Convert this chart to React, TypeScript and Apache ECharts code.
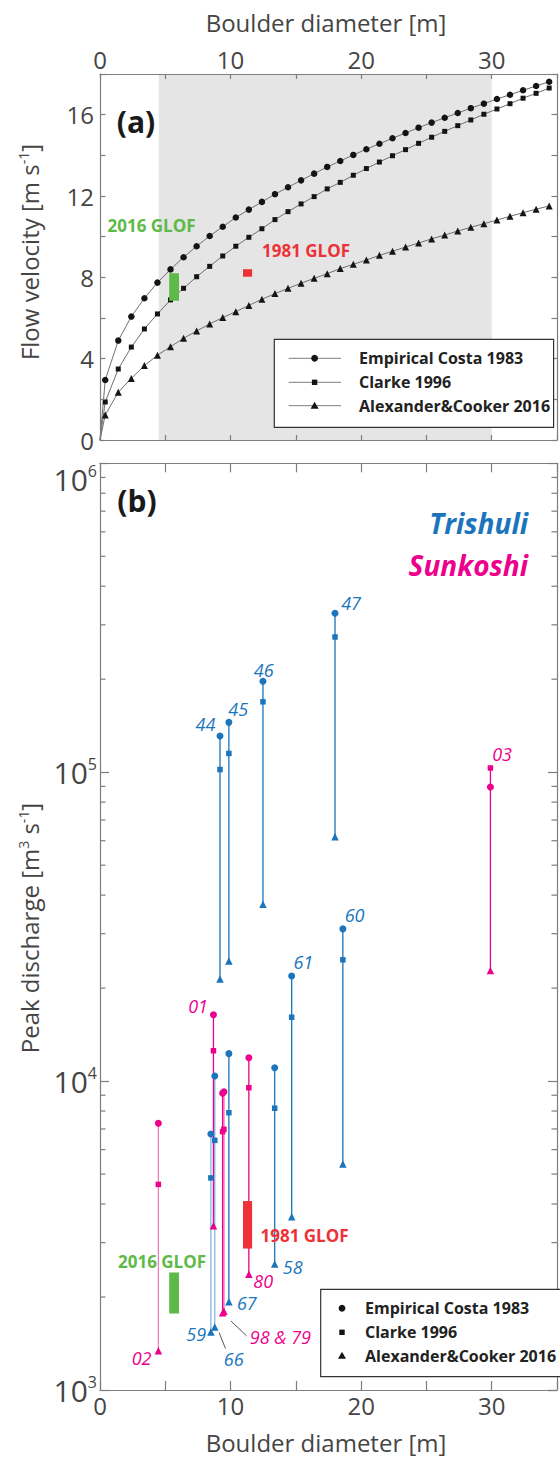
import React, { useEffect, useRef } from 'react';
import * as echarts from 'echarts';

const FONT = "'Open Sans', 'Noto Sans', 'DejaVu Sans', sans-serif";

// ---------- Panel (a): flow velocity vs boulder diameter ----------
const DIAMETER_A = [0.4, 1.4, 2.4, 3.4, 4.4, 5.4, 6.4, 7.4, 8.4, 9.4, 10.4, 11.4, 12.4, 13.4, 14.4, 15.4, 16.4, 17.4, 18.4, 19.4, 20.4, 21.4, 22.4, 23.4, 24.4, 25.4, 26.4, 27.4, 28.4, 29.4, 30.4, 31.4, 32.4, 33.4, 34.4];
const COSTA_V = [2.95, 4.89, 6.07, 6.97, 7.74, 8.39, 8.99, 9.53, 10.03, 10.49, 10.94, 11.33, 11.71, 12.09, 12.43, 12.77, 13.1, 13.43, 13.72, 14.02, 14.3, 14.57, 14.84, 15.1, 15.36, 15.61, 15.85, 16.08, 16.32, 16.54, 16.77, 16.98, 17.2, 17.41, 17.62];
const CLARKE_V = [1.87, 3.49, 4.57, 5.46, 6.2, 6.89, 7.46, 8.03, 8.54, 9.05, 9.53, 9.97, 10.39, 10.84, 11.23, 11.61, 11.97, 12.35, 12.67, 13.02, 13.35, 13.67, 13.98, 14.28, 14.59, 14.89, 15.18, 15.46, 15.74, 16.02, 16.28, 16.54, 16.81, 17.05, 17.31];
const ALEX_V = [1.23, 2.35, 3.03, 3.66, 4.17, 4.59, 5.0, 5.36, 5.71, 6.02, 6.31, 6.62, 6.92, 7.2, 7.46, 7.71, 7.95, 8.18, 8.43, 8.64, 8.85, 9.08, 9.28, 9.49, 9.69, 9.89, 10.08, 10.28, 10.46, 10.64, 10.82, 11.0, 11.18, 11.35, 11.51];
const SHADED_RANGE_A = [4.5, 30, 0, 18]; // [x0, x1, y0, y1]
const GLOF2016_A = [5.3, 6.05, 6.85, 8.2];
const GLOF1981_A = [10.95, 11.65, 8.03, 8.4];

// ---------- Panel (b): peak discharge ----------
const TRISHULI_SITES = ['44', '45', '46', '47', '60', '61', '58', '67', '66', '59'];
const TRISHULI_D = [9.19, 9.87, 12.48, 18.0, 18.6, 14.68, 13.38, 9.87, 8.79, 8.49];
const TRISHULI_COSTA = [131000, 145000, 197000, 327000, 31100, 21900, 11050, 12270, 10390, 6740];
const TRISHULI_CLARKE = [102000, 115000, 169000, 274000, 24700, 16100, 8170, 7900, 6430, 4860];
const TRISHULI_ALEX = [21400, 24500, 37400, 61800, 5390, 3640, 2560, 1930, 1600, 1540];

const SUNKOSHI_SITES = ['03', '01', '80', '98', '79', '02'];
const SUNKOSHI_D = [29.9, 8.69, 11.4, 9.39, 9.49, 4.47];
const SUNKOSHI_COSTA = [89500, 16400, 11900, 9130, 9240, 7300];
const SUNKOSHI_CLARKE = [103200, 12540, 9520, 6860, 6980, 4630];
const SUNKOSHI_ALEX = [22800, 3400, 2370, 1780, 1800, 1340];

const GLOF2016_B = [5.3, 6.05, 1770, 2400];
const GLOF1981_B = [10.95, 11.65, 2870, 4090];

const X_TICKS_LABELLED = [0, 10, 20, 30];
const Y_TICKS_LABELLED_A = [0, 4, 8, 12, 16];

// ---------- styles ----------
const BLUE = '#1a75bc';
const MAGENTA = '#ec008c';
const GREEN = '#5dba47';
const RED = '#ed3237';
const AXIS_COLOR = '#7d7d7d';
const TICK_TEXT = '#454545';

const LINE_COLOR_OVERRIDE: Record<string, string> = {
  '59': '#86b7e0',
  '66': '#86b7e0',
  '02': '#f27cbc',
  '79': '#f25aa9',
};

const SITE_LABEL_STYLE: Record<string, { at: 'costa' | 'clarke' | 'alex'; dx: number; dy: number; text?: string }> = {
  '44': { at: 'costa', dx: -14.6, dy: -11.7 },
  '45': { at: 'costa', dx: 9.4, dy: -13.4 },
  '46': { at: 'costa', dx: 0.7, dy: -11.7 },
  '47': { at: 'costa', dx: 16.1, dy: -10.6 },
  '60': { at: 'costa', dx: 11.7, dy: -13.7 },
  '61': { at: 'costa', dx: 11.7, dy: -14.3 },
  '58': { at: 'alex', dx: 18, dy: 2.7 },
  '67': { at: 'alex', dx: 18, dy: 1.6 },
  '66': { at: 'alex', dx: 19, dy: 31.6 },
  '59': { at: 'alex', dx: -14.7, dy: 1.7 },
  '03': { at: 'clarke', dx: 11.7, dy: -13.7 },
  '01': { at: 'costa', dx: -15.4, dy: -8.7 },
  '80': { at: 'alex', dx: 14.3, dy: 7 },
  '98': { at: 'alex', dx: 57.8, dy: 24.3, text: '98 & 79' },
  '02': { at: 'alex', dx: -16.8, dy: 7.6 },
};
const LEADER_STYLE: Record<string, number[]> = {
  '66': [4.3, 5.6, 10.7, 21.6],
  '98': [8.3, 8.3, 24, 23.3],
};

function markerShape(sym: string, x: number, y: number): any {
  const fill = { fill: '#141414' };
  if (sym === 'circle') return { type: 'circle', z: 31, shape: { cx: x, cy: y, r: 3.4 }, style: fill };
  if (sym === 'square') return { type: 'rect', z: 31, shape: { x: x - 2.7, y: y - 2.7, width: 5.4, height: 5.4 }, style: fill };
  return { type: 'polygon', z: 31, shape: { points: [[x, y - 4], [x - 4, y + 3], [x + 4, y + 3]] }, style: fill };
}

function buildOption() {
  const axisLine = { show: true, onZero: false, lineStyle: { color: AXIS_COLOR, width: 1.2 } };
  const tickLabel = { fontSize: 24, color: TICK_TEXT, fontFamily: FONT };

  const xAxisBase = (grid: number, position: 'top' | 'bottom', labels: boolean, tickLen: number) => ({
    type: 'value',
    gridIndex: grid,
    position,
    min: 0,
    max: 35,
    interval: 5,
    z: 6,
    axisLine,
    axisTick: { show: true, inside: true, length: tickLen, lineStyle: { color: AXIS_COLOR, width: 1.2 } },
    axisLabel: labels
      ? { show: true, margin: 3, ...tickLabel, formatter: (v: number) => (X_TICKS_LABELLED.includes(v) ? String(v) : '') }
      : { show: false },
    splitLine: { show: false },
  });

  const yAxisA = (position: 'left' | 'right', labels: boolean) => ({
    type: 'value',
    gridIndex: 0,
    position,
    min: 0,
    max: 18,
    interval: 2,
    z: 6,
    axisLine,
    axisTick: { show: true, inside: true, length: 5.5, lineStyle: { color: AXIS_COLOR, width: 1.2 } },
    axisLabel: labels
      ? { show: true, margin: 6, ...tickLabel, formatter: (v: number) => (Y_TICKS_LABELLED_A.includes(v) ? String(v) : '') }
      : { show: false },
    splitLine: { show: false },
  });

  const yAxisB = (position: 'left' | 'right', labels: boolean) => ({
    type: 'log',
    logBase: 10,
    gridIndex: 1,
    position,
    min: 1000,
    max: 1000000,
    z: 6,
    axisLine,
    axisTick: { show: true, inside: true, length: 9, lineStyle: { color: AXIS_COLOR, width: 1.2 } },
    axisLabel: labels
      ? {
          show: true,
          margin: 3,
          verticalAlignMaxLabel: 'top',
          formatter: (v: number) => `{b|10}{s|${Math.round(Math.log10(v))}}`,
          rich: {
            b: { fontSize: 30, fontFamily: FONT, color: TICK_TEXT, lineHeight: 26 },
            s: { fontSize: 16, fontFamily: FONT, color: TICK_TEXT, padding: [0, 0, 16, 0] },
          },
        }
      : { show: false },
    splitLine: { show: false },
  });

  const boxSeries = (box: number[], color: string, xi: number, yi: number, z: number) => ({
    type: 'custom',
    xAxisIndex: xi,
    yAxisIndex: yi,
    z,
    silent: true,
    data: [box],
    encode: { x: [0, 1], y: [2, 3] },
    renderItem: (_p: any, api: any) => {
      const p0 = api.coord([api.value(0), api.value(3)]);
      const p1 = api.coord([api.value(1), api.value(2)]);
      return {
        type: 'rect',
        shape: { x: p0[0], y: p0[1], width: p1[0] - p0[0], height: p1[1] - p0[1] },
        style: { fill: color },
      };
    },
  });

  const curveSeries = (name: string, values: number[], symbol: string, size: number) => ({
    type: 'line',
    name,
    xAxisIndex: 0,
    yAxisIndex: 0,
    z: 3,
    silent: true,
    symbol,
    symbolSize: size,
    showSymbol: true,
    lineStyle: { color: '#6f6f6f', width: 1 },
    itemStyle: { color: '#141414' },
    data: [{ value: [0, 0], symbol: 'none' }, ...DIAMETER_A.map((d, i) => [d, values[i]])],
  });

  type Site = { name: string; d: number; costa: number; clarke: number; alex: number; color: string };
  const sites: Site[] = [
    ...TRISHULI_SITES.map((name, i) => ({
      name, d: TRISHULI_D[i], costa: TRISHULI_COSTA[i], clarke: TRISHULI_CLARKE[i], alex: TRISHULI_ALEX[i], color: BLUE,
    })),
    ...SUNKOSHI_SITES.map((name, i) => ({
      name, d: SUNKOSHI_D[i], costa: SUNKOSHI_COSTA[i], clarke: SUNKOSHI_CLARKE[i], alex: SUNKOSHI_ALEX[i], color: MAGENTA,
    })),
  ];

  const siteSeries = sites.map((s) => ({
    type: 'line',
    name: 'site ' + s.name,
    xAxisIndex: 3,
    yAxisIndex: 2,
    z: 3,
    silent: true,
    showSymbol: true,
    lineStyle: { color: LINE_COLOR_OVERRIDE[s.name] || s.color, width: 1.3 },
    itemStyle: { color: s.color },
    data: [
      { value: [s.d, s.alex], symbol: 'triangle', symbolSize: 7.5 },
      { value: [s.d, s.clarke], symbol: 'rect', symbolSize: 5.5 },
      { value: [s.d, s.costa], symbol: 'circle', symbolSize: 7 },
    ],
  }));

  const labelled = sites.filter((s) => SITE_LABEL_STYLE[s.name]);
  const labelSeries = {
    type: 'custom',
    xAxisIndex: 3,
    yAxisIndex: 2,
    z: 7,
    silent: true,
    data: labelled.map((s, i) => [s.d, s[SITE_LABEL_STYLE[s.name].at], i]),
    encode: { x: 0, y: 1 },
    renderItem: (_p: any, api: any) => {
      const s = labelled[api.value(2)];
      const st = SITE_LABEL_STYLE[s.name];
      const p = api.coord([api.value(0), api.value(1)]);
      const children: any[] = [
        {
          type: 'text',
          style: {
            text: st.text || s.name,
            x: p[0] + st.dx,
            y: p[1] + st.dy,
            fill: s.color,
            fontSize: 18,
            fontStyle: 'italic',
            fontFamily: FONT,
            align: 'center',
            verticalAlign: 'middle',
          },
        },
      ];
      const ld = LEADER_STYLE[s.name];
      if (ld) {
        children.push({
          type: 'line',
          shape: { x1: p[0] + ld[0], y1: p[1] + ld[1], x2: p[0] + ld[2], y2: p[1] + ld[3] },
          style: { stroke: '#555', lineWidth: 1 },
        });
      }
      return { type: 'group', children };
    },
  };

  const minorTicks: number[][] = [];
  [3, 4, 5].forEach((e) => {
    for (let m = 2; m <= 9; m++) minorTicks.push([0, m * Math.pow(10, e)]);
  });
  const minorTickSeries = {
    type: 'custom',
    xAxisIndex: 3,
    yAxisIndex: 2,
    z: 6,
    silent: true,
    data: minorTicks,
    encode: { x: 0, y: 1 },
    renderItem: (_p: any, api: any) => {
      const l = api.coord([0, api.value(1)]);
      const r = api.coord([35, api.value(1)]);
      const st = { stroke: AXIS_COLOR, lineWidth: 1.2 };
      return {
        type: 'group',
        children: [
          { type: 'line', shape: { x1: l[0], y1: l[1], x2: l[0] + 5.5, y2: l[1] }, style: st },
          { type: 'line', shape: { x1: r[0] - 5.5, y1: r[1], x2: r[0], y2: r[1] }, style: st },
        ],
      };
    },
  };

  const txt = (text: string, x: number, y: number, extra: any = {}) => ({
    type: 'text',
    x,
    y,
    z: 30,
    silent: true,
    style: { text, fontFamily: FONT, align: 'center', verticalAlign: 'middle', fill: '#222', ...extra },
  });

  const legend = (box: number[], lineX: number[] | null, markX: number, textX: number, rowsY: number[]) => {
    const labels = ['Empirical Costa 1983', 'Clarke 1996', 'Alexander&Cooker 2016'];
    const syms = ['circle', 'square', 'triangle'];
    const els: any[] = [
      {
        type: 'rect',
        z: 29,
        silent: true,
        shape: { x: box[0], y: box[1], width: box[2], height: box[3] },
        style: { fill: '#fff', stroke: '#333', lineWidth: 1.2 },
      },
    ];
    rowsY.forEach((y, i) => {
      if (lineX) {
        els.push({ type: 'line', z: 30, silent: true, shape: { x1: lineX[0], y1: y, x2: lineX[1], y2: y }, style: { stroke: '#7f7f7f', lineWidth: 1 } });
      }
      els.push(markerShape(syms[i], markX, y));
      els.push({
        type: 'text',
        z: 31,
        silent: true,
        style: { text: labels[i], x: textX, y, fontFamily: FONT, fontWeight: 'bold', fontSize: 16, fill: '#222', align: 'left', verticalAlign: 'middle' },
      });
    });
    return els;
  };

  const graphic: any[] = [
    txt('Boulder diameter [m]', 326, 22, { fontSize: 24, fill: TICK_TEXT }),
    txt('Boulder diameter [m]', 326, 1442, { fontSize: 24, fill: TICK_TEXT }),
    {
      type: 'text',
      x: 29,
      y: 252,
      rotation: Math.PI / 2,
      z: 30,
      silent: true,
      style: {
        text: '{a|Flow velocity [m s}{s|-1}{a|]}',
        align: 'center',
        verticalAlign: 'middle',
        rich: {
          a: { fontSize: 24, fontFamily: FONT, fill: TICK_TEXT, color: TICK_TEXT },
          s: { fontSize: 14, fontFamily: FONT, fill: TICK_TEXT, color: TICK_TEXT, padding: [0, 0, 12, 0] },
        },
      },
    },
    {
      type: 'text',
      x: 29,
      y: 928,
      rotation: Math.PI / 2,
      z: 30,
      silent: true,
      style: {
        text: '{a|Peak discharge [m}{s|3}{a| s}{s|-1}{a|]}',
        align: 'center',
        verticalAlign: 'middle',
        rich: {
          a: { fontSize: 24, fontFamily: FONT, fill: TICK_TEXT, color: TICK_TEXT },
          s: { fontSize: 14, fontFamily: FONT, fill: TICK_TEXT, color: TICK_TEXT, padding: [0, 0, 12, 0] },
        },
      },
    },
    txt('(a)', 136, 121, { fontSize: 30, fontWeight: 'bold', fill: '#1a1a1a' }),
    txt('(b)', 137, 500, { fontSize: 30, fontWeight: 'bold', fill: '#1a1a1a' }),
    txt('Trishuli', 528, 523, { fontSize: 28, fontWeight: 'bold', fontStyle: 'italic', fill: BLUE, align: 'right' }),
    txt('Sunkoshi', 528, 565, { fontSize: 28, fontWeight: 'bold', fontStyle: 'italic', fill: MAGENTA, align: 'right' }),
    txt('2016 GLOF', 151.5, 225, { fontSize: 17, fontWeight: 'bold', fill: GREEN }),
    txt('1981 GLOF', 306, 250, { fontSize: 17, fontWeight: 'bold', fill: RED }),
    txt('2016 GLOF', 162, 1261.7, { fontSize: 17, fontWeight: 'bold', fill: GREEN }),
    txt('1981 GLOF', 304.5, 1235.7, { fontSize: 17, fontWeight: 'bold', fill: RED }),
    ...legend([274.3, 339.3, 279.3, 88], [288.6, 341], 314.6, 359, [358.3, 382.3, 405.7]),
    ...legend([320.7, 1289.3, 260, 87.4], null, 342, 365, [1308.3, 1332.3, 1355.7]),
  ];

  return {
    animation: false,
    grid: [
      { left: 100, top: 74, width: 465, height: 366 },
      { left: 100, top: 463.3, width: 465, height: 926.7 },
    ],
    xAxis: [
      xAxisBase(0, 'top', true, 5),
      xAxisBase(0, 'bottom', false, 5),
      xAxisBase(1, 'top', false, 9),
      xAxisBase(1, 'bottom', true, 9),
    ],
    yAxis: [yAxisA('left', true), yAxisA('right', false), yAxisB('left', true), yAxisB('right', false)],
    series: [
      boxSeries(SHADED_RANGE_A, '#e5e5e5', 0, 0, 1),
      curveSeries('Empirical Costa 1983', COSTA_V, 'circle', 6.5),
      curveSeries('Clarke 1996', CLARKE_V, 'rect', 5),
      curveSeries('Alexander&Cooker 2016', ALEX_V, 'triangle', 7),
      boxSeries(GLOF2016_A, GREEN, 0, 0, 5),
      boxSeries(GLOF1981_A, RED, 0, 0, 5),
      ...siteSeries,
      boxSeries(GLOF2016_B, GREEN, 3, 2, 5),
      boxSeries(GLOF1981_B, RED, 3, 2, 5),
      labelSeries,
      minorTickSeries,
    ],
    graphic: { elements: graphic },
  };
}

export default function App() {
  const ref = useRef<HTMLDivElement>(null);
  useEffect(() => {
    if (!ref.current) return;
    const chart = echarts.init(ref.current, null, { renderer: 'svg' });
    chart.setOption(buildOption() as any);
    return () => chart.dispose();
  }, []);
  return <div ref={ref} style={{ position: 'absolute', left: 0, top: 0, width: 560, height: 1458 }} />;
}
